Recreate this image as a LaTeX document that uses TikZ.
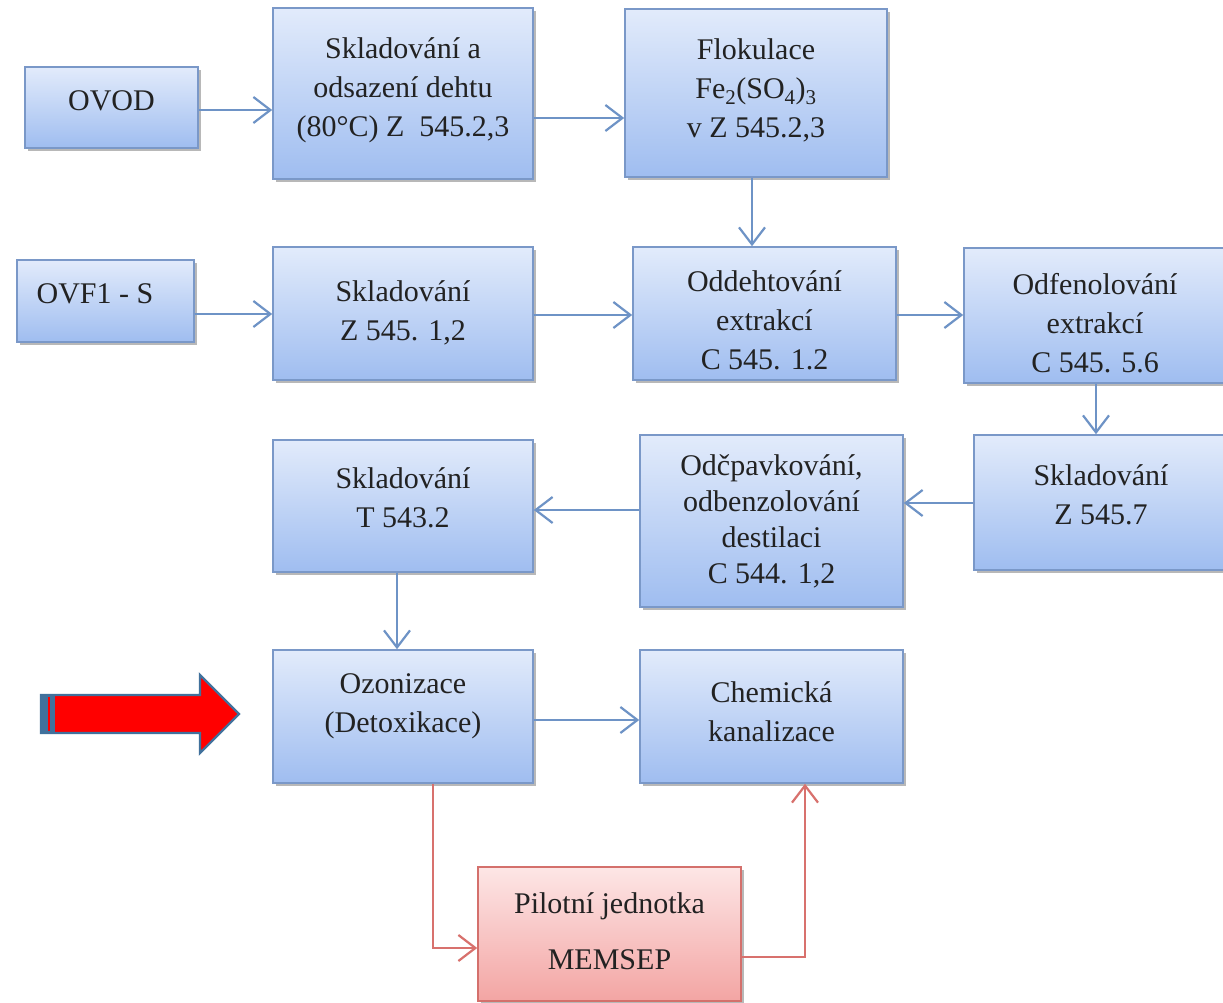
\documentclass[tikz,border=0pt]{standalone}
\usepackage{fontspec}
\setmainfont{Liberation Serif}
\usetikzlibrary{arrows.meta,shadows}
\definecolor{boxtop}{HTML}{E2EBFB}
\definecolor{boxbot}{HTML}{9FBDF0}
\definecolor{boxline}{HTML}{7A98C8}
\definecolor{conncol}{HTML}{6E93C6}
\definecolor{pinktop}{HTML}{FDE6E6}
\definecolor{pinkbot}{HTML}{F3A5A3}
\definecolor{pinkline}{HTML}{D4706C}
\definecolor{redconncol}{HTML}{D8716D}
\definecolor{txtcol}{HTML}{222222}
\definecolor{arrowblue}{HTML}{41719C}
\newsavebox{\liftbox}
\newcommand{\liftlines}[2]{\sbox{\liftbox}{\begin{tabular}{@{}c@{}}#2\end{tabular}}%
  \raisebox{\dimexpr #1-0.5\ht\liftbox+0.5\dp\liftbox\relax}[0pt][0pt]{\usebox{\liftbox}}}
\tikzset{
  procbox/.style={draw=boxline, line width=1.6pt, top color=boxtop, bottom color=boxbot,
    inner sep=0pt, text=txtcol,
    font=\fontsize{30}{39}\selectfont,
    drop shadow={shadow xshift=2.5pt, shadow yshift=-3pt, fill=black, opacity=.28}},
  pinkbox/.style={procbox, draw=pinkline, top color=pinktop, bottom color=pinkbot},
  conn/.style={draw=conncol, line width=2.6pt,
    -{Straight Barb[length=17pt,width=26pt,line width=2.2pt]}},
  redconn/.style={conn, draw=redconncol},
}
\begin{document}
\begin{tikzpicture}[x=1pt,y=-1pt]
\useasboundingbox (0,0) rectangle (1223,1003);
\fill[white] (0,0) rectangle (1223,1003);

% boxes
\node[procbox, minimum width=173pt, minimum height=81pt] (ovod) at (111.5,107.5)
  {\liftlines{5pt}{OVOD}};
\node[procbox, minimum width=260pt, minimum height=171pt] (skl1) at (403,93.5)
  {\liftlines{4pt}{Skladování a\\odsazení dehtu\\(80°C) Z\enspace 545.2,3}};
\node[procbox, minimum width=262pt, minimum height=168pt] (flok) at (756,93)
  {\liftlines{2pt}{Flokulace\\Fe\textsubscript{2}(SO\textsubscript{4})\textsubscript{3}\\v Z 545.2,3}};
\node[procbox, minimum width=177pt, minimum height=82pt] (ovf) at (105.5,301)
  {\liftlines{5pt}{OVF1 - S\kern21pt}};
\node[procbox, minimum width=260pt, minimum height=133pt] (skl2) at (403,313.5)
  {\liftlines{0pt}{Skladování\\Z 545. 1,2}};
\node[procbox, minimum width=263pt, minimum height=133pt] (odd) at (764.5,313.5)
  {\liftlines{-9pt}{Oddehtování\\extrakcí\\C 545. 1.2}};
\node[procbox, minimum width=262pt, minimum height=135pt] (odf) at (1095,315.5)
  {\liftlines{-10pt}{Odfenolování\\extrakcí\\C 545. 5.6}};
\node[procbox, minimum width=254pt, minimum height=135pt] (skl3) at (1101,502.5)
  {\liftlines{5pt}{Skladování\\Z 545.7}};
\node[procbox, minimum width=263pt, minimum height=172pt, font=\fontsize{30}{36}\selectfont] (odc) at (771.5,521)
  {\liftlines{-1pt}{Odčpavkování,\\odbenzolování\\destilaci\\C 544. 1,2}};
\node[procbox, minimum width=260pt, minimum height=132pt] (sklT) at (403,506)
  {\liftlines{6pt}{Skladování\\T 543.2}};
\node[procbox, minimum width=260pt, minimum height=133pt] (ozo) at (403,716.5)
  {\liftlines{11pt}{Ozonizace\\(Detoxikace)}};
\node[procbox, minimum width=263pt, minimum height=133pt] (chem) at (771.5,716.5)
  {\liftlines{2pt}{Chemická\\kanalizace}};
\node[pinkbox, minimum width=263pt, minimum height=134pt] (pil) at (609.5,934)
  {\liftlines{0pt}{Pilotní jednotka\\[17pt]MEMSEP}};

% blue connectors
\draw[conn] (ovod.east |- 0,110) -- (skl1.west |- 0,110);
\draw[conn] (skl1.east |- 0,118) -- (flok.west |- 0,118);
\draw[conn] (ovf.east |- 0,314) -- (skl2.west |- 0,314);
\draw[conn] (skl2.east |- 0,315) -- (odd.west |- 0,315);
\draw[conn] (flok.south -| 752,0) -- (odd.north -| 752,0);
\draw[conn] (odd.east |- 0,315) -- (odf.west |- 0,315);
\draw[conn] (odf.south -| 1096,0) -- (skl3.north -| 1096,0);
\draw[conn] (skl3.west |- 0,503) -- (odc.east |- 0,503);
\draw[conn] (odc.west |- 0,510) -- (sklT.east |- 0,510);
\draw[conn] (sklT.south -| 397,0) -- (ozo.north -| 397,0);
\draw[conn] (ozo.east |- 0,720) -- (chem.west |- 0,720);

% red connectors
\draw[redconn] (ozo.south -| 433,0) |- (pil.west |- 0,948);
\draw[redconn] (pil.east |- 0,957) -| (chem.south -| 805,0);

% big red arrow
\filldraw[fill=red, draw=arrowblue, line width=2.4pt, line join=miter]
  (41,695) -- (200,695) -- (200,675) -- (239,714) -- (200,753) -- (200,733) -- (41,733) -- cycle;
\fill[arrowblue] (41,693.5) rectangle (55,733.5);
\fill[red] (47.7,696.5) rectangle (50,731);
\end{tikzpicture}
\end{document}
